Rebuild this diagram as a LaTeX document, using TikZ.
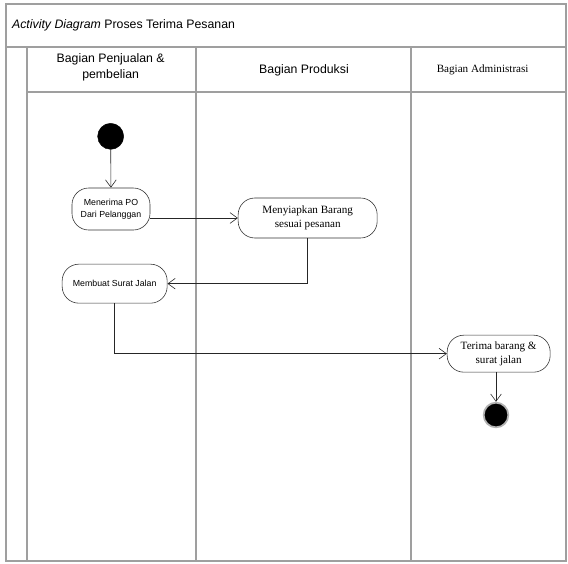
\documentclass[tikz,border=0pt]{standalone}
\usepackage{fontspec}
\setmainfont{Liberation Sans}
\newfontfamily\timesfont{Liberation Serif}
\usetikzlibrary{arrows.meta,positioning,calc}

\tikzset{
  lane/.style={draw=gray!75, line width=0.9pt},
  activity/.style={draw=black!80, line width=0.5pt, rounded corners=0.5cm, align=center, inner sep=1pt},
  sanstext/.style={font=\fontsize{7.5}{10}\selectfont},
  seriftext/.style={font=\timesfont\fontsize{9.5}{12}\selectfont},
  initial/.style={circle, fill=black, draw=black, minimum size=0.78cm, inner sep=0pt},
  final/.style={circle, fill=black, draw=gray!60, line width=1.5pt, minimum size=0.74cm, inner sep=0pt},
  flow/.style={draw=black!85, line width=0.5pt, -{Straight Barb[length=2.2mm,width=3.2mm]}}
}

\begin{document}
\begin{tikzpicture}
\useasboundingbox (0.00,0.00) rectangle (17.04,-16.89);
% frame and swimlanes
\draw[lane] (0.18,-0.12) rectangle (16.98,-16.83);
\draw[lane] (0.18,-1.41) -- (16.98,-1.41);
\draw[lane] (0.81,-2.76) -- (16.98,-2.76);
\draw[lane] (0.81,-1.41) -- (0.81,-16.83);
\draw[lane] (5.88,-1.41) -- (5.88,-16.83);
\draw[lane] (12.33,-1.41) -- (12.33,-16.83);
\node[anchor=west, font=\fontsize{10.5}{12}\selectfont] (title) at (0.24,-0.75) {\textit{Activity Diagram} Proses Terima Pesanan};
\node[align=center, font=\fontsize{10.5}{13.5}\selectfont] (lanejual) at (3.32,-2.02) {Bagian Penjualan \&\\pembelian};
\node[font=\fontsize{10.5}{12}\selectfont] (laneprod) at (9.12,-2.10) {Bagian Produksi};
\node[font=\timesfont\fontsize{9.5}{12}\selectfont] (laneadm) at (14.48,-2.10) {Bagian Administrasi};
% activities
\node[initial] (start) at (3.32,-4.09) {};
\node[activity, sanstext, minimum width=2.34cm, minimum height=1.26cm] (menerima) at (3.33,-6.27) {Menerima PO\\Dari Pelanggan};
\node[activity, seriftext, minimum width=4.17cm, minimum height=1.20cm] (menyiapkan) at (9.23,-6.54) {Menyiapkan Barang\\sesuai pesanan};
\node[activity, sanstext, minimum width=3.15cm, minimum height=1.17cm] (membuat) at (3.44,-8.51) {Membuat Surat Jalan};
\node[activity, seriftext, minimum width=3.09cm, minimum height=1.11cm] (terima) at (14.96,-10.61) {Terima barang \&\\surat jalan};
\node[final] (selesai) at (14.88,-12.45) {};
% flows
\draw[flow] (start) -- (menerima);
\draw[flow] (menerima.east |- menyiapkan.west) -- (menyiapkan.west);
\draw[flow] (menyiapkan.south) |- (membuat.east);
\draw[flow] (membuat.south) |- (terima.west);
\draw[flow] (selesai |- terima.south) -- (selesai);
\end{tikzpicture}
\end{document}
